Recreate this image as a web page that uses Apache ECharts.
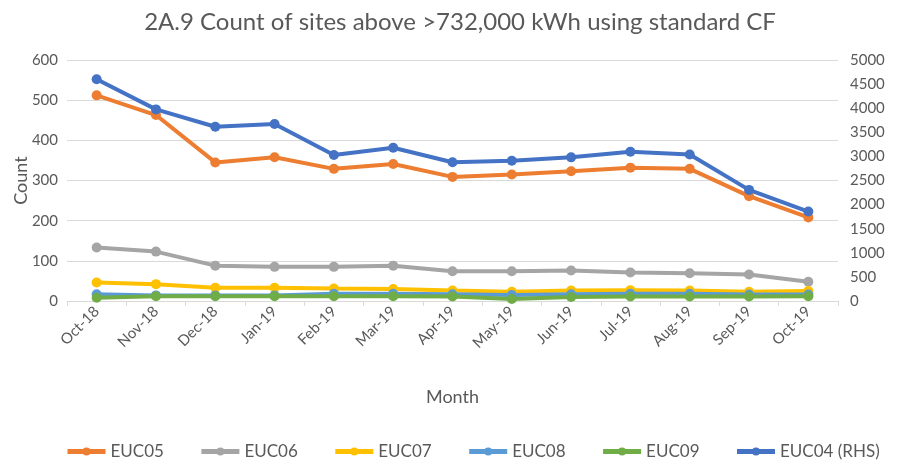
<!DOCTYPE html>
<html>
<head>
<meta charset="utf-8">
<style>
  html, body { margin: 0; padding: 0; background: #fff; }
  #chart { width: 912px; height: 465px; }
</style>
<script src="https://cdn.jsdelivr.net/npm/echarts@6/dist/echarts.min.js"></script>
</head>
<body>
<div id="chart"></div>
<script>
// Monthly counts of sites above 732,000 kWh by EUC band
const months = ['Oct-18','Nov-18','Dec-18','Jan-19','Feb-19','Mar-19','Apr-19','May-19','Jun-19','Jul-19','Aug-19','Sep-19','Oct-19'];
const euc05 = [512, 463, 345, 358, 329, 341, 309, 315, 323, 332, 329, 261, 208];
const euc06 = [133, 123, 88, 85, 85, 88, 74, 74, 76, 71, 69, 66, 48];
const euc07 = [46, 42, 33, 33, 31, 30, 26, 23, 26, 27, 26, 23, 25];
const euc08 = [17, 14, 14, 14, 18, 18, 17, 15, 17, 18, 18, 16, 16];
const euc09 = [8, 12, 12, 12, 12, 12, 11, 5, 10, 11, 11, 11, 12];
const euc04 = [4600, 3975, 3615, 3672, 3030, 3180, 2880, 2910, 2980, 3095, 3040, 2305, 1855];

const leftTicks = { min: 0, max: 600, interval: 100 };
const rightTicks = { min: 0, max: 5000, interval: 500 };

const font = 'Lato, "Open Sans", sans-serif';
const textGrey = '#595959';

function line(name, data, color, axis) {
  return {
    name: name,
    type: 'line',
    data: data,
    yAxisIndex: axis,
    symbol: 'circle',
    symbolSize: 10,
    lineStyle: { color: color, width: 4 },
    itemStyle: { color: color },
    emphasis: { disabled: true }
  };
}

const chart = echarts.init(document.getElementById('chart'), null, { renderer: 'canvas' });
chart.setOption({
  animation: false,
  backgroundColor: '#ffffff',
  title: {
    text: '2A.9 Count of sites above >732,000 kWh using standard CF',
    left: 455,
    top: 5,
    textAlign: 'center',
    textStyle: { fontFamily: font, fontSize: 24, fontWeight: 'normal', color: textGrey }
  },
  legend: {
    bottom: 0,
    left: 60,
    itemWidth: 38,
    itemHeight: 10,
    itemGap: 35,
    lineStyle: { width: 5 },
    textStyle: { fontFamily: font, fontSize: 17, color: textGrey },
    data: ['EUC05', 'EUC06', 'EUC07', 'EUC08', 'EUC09', 'EUC04 (RHS)']
  },
  grid: { left: 67, right: 74, top: 60, bottom: 164 },
  xAxis: {
    type: 'category',
    data: months,
    boundaryGap: true,
    name: 'Month',
    nameLocation: 'middle',
    nameGap: 87,
    nameTextStyle: { fontFamily: font, fontSize: 18, color: textGrey },
    axisLine: { lineStyle: { color: '#D9D9D9', width: 1 } },
    axisTick: { show: true, length: 5, lineStyle: { color: '#D9D9D9' } },
    axisLabel: { rotate: 45, fontFamily: font, fontSize: 15, color: textGrey, margin: 8 }
  },
  yAxis: [
    {
      type: 'value',
      min: leftTicks.min, max: leftTicks.max, interval: leftTicks.interval,
      name: 'Count',
      nameLocation: 'middle',
      nameGap: 37,
      nameMoveOverlap: false,
      nameTextStyle: { fontFamily: font, fontSize: 18, color: textGrey },
      axisLine: { show: false },
      axisTick: { show: false },
      axisLabel: { fontFamily: font, fontSize: 15, color: textGrey, margin: 9 },
      splitLine: { lineStyle: { color: '#D9D9D9', width: 1 } }
    },
    {
      type: 'value',
      min: rightTicks.min, max: rightTicks.max, interval: rightTicks.interval,
      position: 'right',
      axisLine: { show: false },
      axisTick: { show: false },
      axisLabel: {
        fontFamily: font, fontSize: 15, color: textGrey, margin: 12,
        formatter: function (v) { return String(v); }
      },
      splitLine: { show: false }
    }
  ],
  series: [
    line('EUC05', euc05, '#ED7D31', 0),
    line('EUC06', euc06, '#A5A5A5', 0),
    line('EUC07', euc07, '#FFC000', 0),
    line('EUC08', euc08, '#5B9BD5', 0),
    line('EUC09', euc09, '#70AD47', 0),
    line('EUC04 (RHS)', euc04, '#4472C4', 1)
  ]
});
</script>
</body>
</html>
